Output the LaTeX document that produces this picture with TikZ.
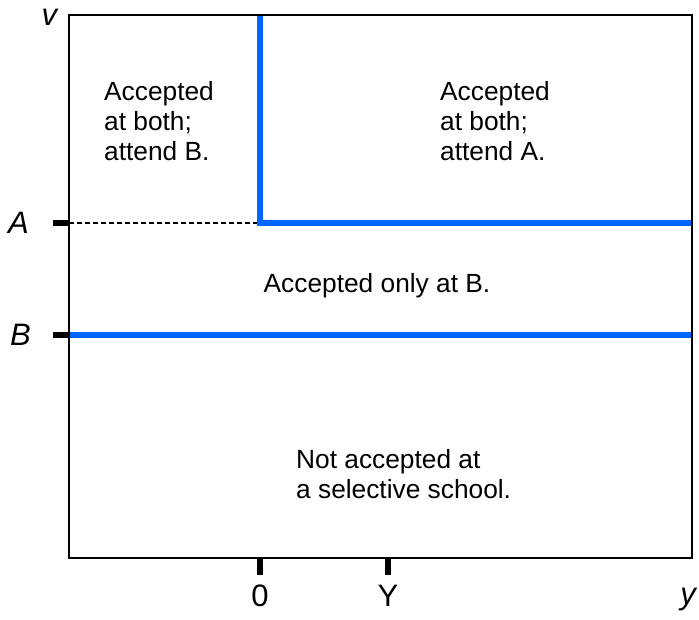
\documentclass[tikz,border=0pt]{standalone}
\usepackage{fontspec}
\setmainfont{Liberation Sans}
\usetikzlibrary{positioning,calc}
\definecolor{cutblue}{RGB}{0,102,255}
\tikzset{
  plot/frame/.style={line width=2.8pt},
  plot/cut/.style={line width=5.8pt, draw=cutblue},
  plot/guide/.style={line width=1.2pt, dash pattern=on 5pt off 3pt},
  plot/tick/.style={line width=5.5pt},
  plot/region/.style={align=left, inner sep=0pt, font=\fontsize{26.3}{30}\selectfont},
  plot/axislabel/.style={inner sep=0pt, font=\fontsize{31}{36}\selectfont}
}

\begin{document}
\begin{tikzpicture}[x=1pt, y=-1pt]
  \useasboundingbox (0,0) rectangle (699,619);
  % corners of the plot
  \coordinate (nw) at (69,15);
  \coordinate (se) at (692,558);
  % cut-off lines
  \coordinate (aL) at (69,223);
  \coordinate (aR) at (692,223);
  \coordinate (bL) at (69,335);
  \coordinate (bR) at (692,335);
  \coordinate (zeroTop) at (260,15);
  \coordinate (kink) at (260,223);
  \coordinate (zeroB) at (260,558);
  \coordinate (bigYB) at (388,558);

  \draw[plot/guide] (aL) -- (kink);
  \draw[plot/cut] (zeroTop) -- (kink) -- (aR);
  \draw[plot/cut] (bL) -- (bR);
  \draw[plot/frame] (nw) rectangle (se);

  % ticks
  \draw[plot/tick] (aL) -- ++(-16,0) coordinate (aTick);
  \draw[plot/tick] (bL) -- ++(-16,0) coordinate (bTick);
  \draw[plot/tick] (zeroB) -- ++(0,17) coordinate (zeroTick);
  \draw[plot/tick] (bigYB) -- ++(0,17) coordinate (bigYTick);

  % axis labels
  \node[plot/axislabel, left=24pt of aTick] (labA) {\textit{A}};
  \node[plot/axislabel, left=22pt of bTick] (labB) {\textit{B}};
  \node[plot/axislabel, below=10pt of zeroTick] (lab0) {0};
  \node[plot/axislabel, below=10pt of bigYTick] (labY) {Y};
  \node[plot/axislabel] (labv) at (50,17) {\textit{v}};
  \node[plot/axislabel] (laby) at (689,600) {\textit{y}};

  % regions
  \node[plot/region, anchor=north west] (bothB) at (104,81) {Accepted\\at both;\\attend B.};
  \node[plot/region, anchor=north west] (bothA) at (440,81) {Accepted\\at both;\\attend A.};
  \node[plot/region, anchor=base] (onlyB) at (377,292) {Accepted only at B.};
  \node[plot/region, anchor=north west] (none) at (296,449) {Not accepted at\\a selective school.};
\end{tikzpicture}
\end{document}
